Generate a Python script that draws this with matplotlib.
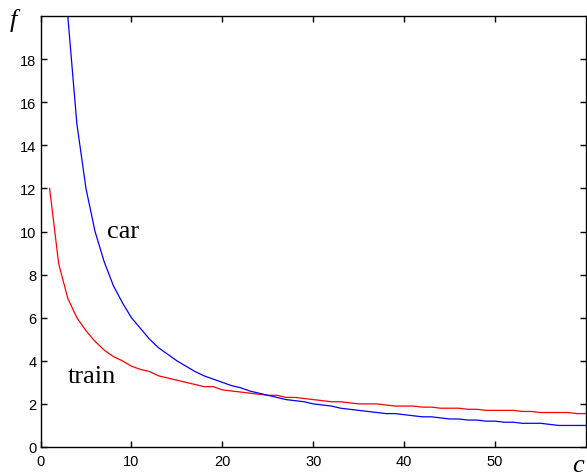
#!/usr/bin/env python3
# -*- coding: utf-8 -*-
import numpy as np
import matplotlib
matplotlib.use("Agg")
import matplotlib.pyplot as plt

plt.rcParams['font.family'] = ['Liberation Sans', 'DejaVu Sans']

# values (f against c)
c_train = list(range(1, 61))
f_train = [12.0, 8.5, 6.9, 6.0, 5.4, 4.9, 4.5, 4.2, 4.0, 3.75,
           3.6, 3.5, 3.3, 3.2, 3.1, 3.0, 2.9, 2.8, 2.8, 2.65,
           2.6, 2.55, 2.5, 2.45, 2.4, 2.4, 2.3, 2.3, 2.25, 2.2,
           2.15, 2.1, 2.1, 2.05, 2.0, 2.0, 2.0, 1.95, 1.9, 1.9,
           1.9, 1.85, 1.85, 1.8, 1.8, 1.8, 1.75, 1.75, 1.7, 1.7,
           1.7, 1.7, 1.65, 1.65, 1.6, 1.6, 1.6, 1.6, 1.55, 1.55]

c_car = list(range(3, 61))
f_car = [20.0, 15.0, 12.0, 10.0, 8.6, 7.5, 6.7, 6.0,
         5.5, 5.0, 4.6, 4.3, 4.0, 3.75, 3.5, 3.3, 3.15, 3.0,
         2.85, 2.75, 2.6, 2.5, 2.4, 2.3, 2.2, 2.15, 2.1, 2.0,
         1.95, 1.9, 1.8, 1.75, 1.7, 1.65, 1.6, 1.55, 1.55, 1.5,
         1.45, 1.4, 1.4, 1.35, 1.3, 1.3, 1.25, 1.25, 1.2, 1.2,
         1.15, 1.15, 1.1, 1.1, 1.1, 1.05, 1.0, 1.0, 1.0, 1.0]

xticks = [0, 10, 20, 30, 40, 50]
yticks = [0, 2, 4, 6, 8, 10, 12, 14, 16, 18]

W, H = 587, 477
fig = plt.figure(figsize=(W / 100, H / 100), dpi=100)
ax = fig.add_axes([40.5 / W, (H - 448) / H, 545.5 / W, 431 / H])

ax.plot(c_train, f_train, color='red', lw=0.9)
ax.plot(c_car, f_car, color='blue', lw=0.9)

ax.set_xlim(0, 60)
ax.set_ylim(0, 20)
ax.set_xticks(xticks)
ax.set_yticks(yticks)
ax.tick_params(direction='in', top=True, right=True, length=4, width=1,
               labelsize=10.5, colors='black')
ax.tick_params(axis='x', pad=5)
ax.tick_params(axis='y', pad=3)
for s in ax.spines.values():
    s.set_linewidth(1)

serif = dict(family=['Liberation Serif', 'DejaVu Serif'], fontsize=19)
ax.text(7.36, 9.76, 'car', va='baseline', ha='left', **serif)
ax.text(3.0, 3.03, 'train', va='baseline', ha='left', **serif)

fig.text(10 / W, (H - 27) / H, 'f', style='italic', va='baseline', ha='left', **serif)
fig.text(572 / W, (H - 472) / H, 'c', style='italic', va='baseline', ha='left', **serif)

fig.savefig("out.png", dpi=100)
